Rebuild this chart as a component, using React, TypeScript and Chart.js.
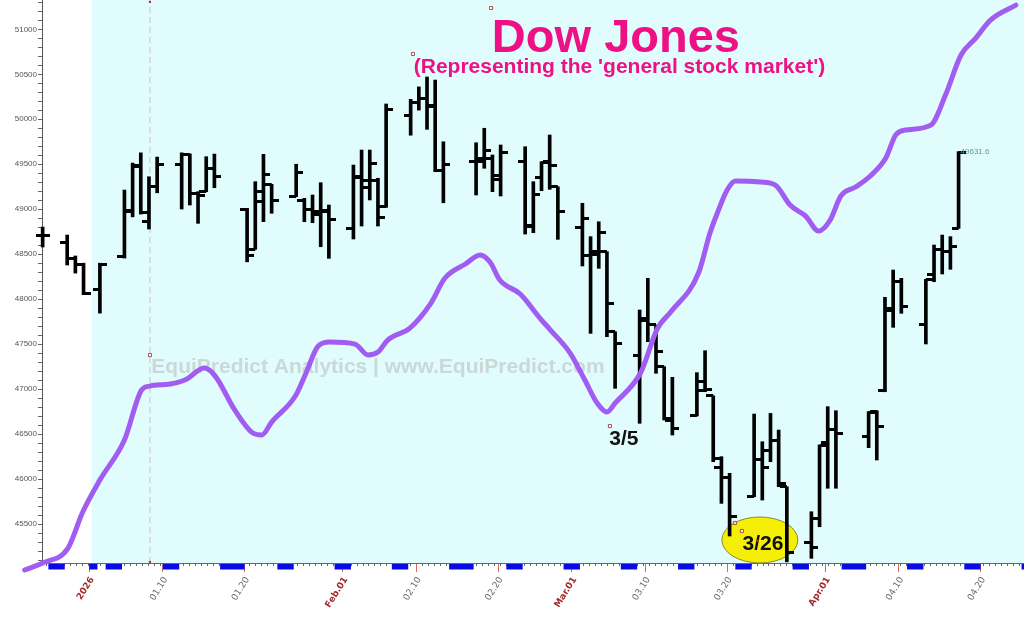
import React, { useEffect, useRef } from 'react';
import { Chart, registerables } from 'chart.js';

Chart.register(...registerables);

// ---- Data (day offset from 2026-01-01) ----
const barDays = [-6, -3, -2, -1, 1, 4, 5, 6, 7, 8, 11, 12, 13, 14, 15, 19, 20, 21, 22, 25, 26, 27, 28, 29, 32, 33, 34, 35, 36, 39, 40, 41, 42, 43, 47, 48, 49, 50, 53, 54, 55, 56, 57, 60, 61, 62, 63, 64, 67, 68, 69, 70, 71, 74, 75, 76, 77, 78, 81, 82, 83, 84, 85, 88, 89, 90, 91, 95, 96, 97, 98, 99, 102, 103, 104, 105, 106];
const opens = [48713, 48632, 48447, 48380, 48113, 48472, 48990, 49490, 48862, 49250, 49500, 49610, 49180, 49195, 49455, 49002, 48554, 49202, 49277, 49140, 49102, 49002, 48936, 48990, 48791, 49352, 49317, 49317, 49028, 50046, 50184, 50233, 50140, 49436, 49528, 49565, 49565, 49325, 49528, 48824, 49352, 49528, 49250, 48799, 48491, 48528, 48528, 47638, 47379, 47768, 47713, 47249, 46656, 46712, 47082, 46925, 46130, 46020, 45804, 46219, 46322, 46433, 45915, 45290, 45564, 46404, 46553, 46470, 46749, 46983, 47898, 48195, 47713, 48269, 48554, 48528, 48788];
const highs = [48802, 48713, 48480, 48400, 48400, 49213, 49513, 49627, 49361, 49580, 49627, 49615, 49195, 49584, 49613, 49010, 49306, 49610, 49277, 49500, 49121, 49158, 49295, 49047, 49491, 49658, 49658, 49344, 50170, 50222, 50360, 50470, 50436, 49750, 49739, 49900, 49603, 49714, 49695, 49306, 49528, 49825, 49250, 49066, 48695, 48861, 48528, 47638, 47880, 48232, 47713, 47249, 47131, 47183, 47427, 46925, 46249, 46064, 46723, 46415, 46730, 46545, 45915, 45637, 46379, 46805, 46760, 46750, 46760, 48021, 48324, 48232, 48221, 48602, 48713, 48695, 49640];
const lows = [48580, 48380, 48290, 48050, 47845, 48457, 48915, 48946, 48780, 49183, 49002, 49047, 48843, 49195, 49239, 48415, 48554, 48862, 48955, 49140, 48861, 48850, 48583, 48454, 48669, 48813, 49103, 48813, 49021, 49823, 50102, 49888, 49417, 49072, 49158, 49455, 49195, 49147, 48724, 48739, 49206, 49221, 48665, 48369, 47620, 48343, 47583, 47009, 46620, 47527, 47176, 46657, 46490, 46701, 46971, 46193, 45730, 45367, 45804, 45767, 46193, 45915, 45080, 45119, 45470, 45898, 45898, 46349, 46212, 46971, 47687, 47843, 47502, 48194, 48280, 48332, 48788];
const closes = [48713, 48447, 48380, 48060, 48390, 48980, 49480, 48960, 49250, 49500, 49610, 49177, 49150, 49455, 49362, 48490, 49083, 49388, 49095, 49410, 49002, 48980, 48980, 48890, 49369, 49240, 49503, 48910, 50111, 50184, 50233, 50157, 49436, 49500, 49528, 49658, 49380, 49628, 48813, 49169, 49517, 49491, 48972, 48899, 48502, 48739, 47954, 47502, 47787, 47713, 47416, 46674, 46564, 46980, 46998, 46230, 46020, 45580, 46219, 46130, 46433, 45952, 45180, 45240, 46368, 46553, 46509, 46740, 46590, 47872, 48195, 47916, 48221, 48554, 48528, 48584, 49631.6];

// Purple trend line (day, value)
const trendDays = [-7.9, -5.7, -2.6, -0.8, 1.3, 4.3, 6.4, 7.4, 9.9, 11.7, 14.1, 15.4, 17.8, 20.0, 21.1, 22.3, 25.2, 26.4, 28.0, 29.4, 32.5, 34.1, 35.3, 36.5, 39.2, 41.7, 43.5, 46.0, 47.8, 49.0, 50.2, 52.7, 55.1, 56.4, 58.8, 60.6, 62.1, 63.3, 64.3, 67.4, 69.5, 71.1, 74.5, 75.9, 76.8, 78.0, 79.0, 82.1, 83.9, 85.7, 87.6, 89.2, 90.6, 91.9, 93.7, 95.5, 97.4, 98.6, 99.8, 102.9, 104.7, 106.6, 108.4, 110.2, 113.3];
const trendValues = [44989, 45067, 45233, 45634, 45990, 46434, 46990, 47034, 47057, 47101, 47234, 47145, 46767, 46512, 46490, 46634, 46923, 47157, 47479, 47523, 47501, 47379, 47412, 47546, 47679, 47946, 48235, 48391, 48491, 48413, 48213, 48057, 47790, 47657, 47401, 47101, 46845, 46745, 46845, 47179, 47679, 47857, 48291, 48735, 48957, 49213, 49313, 49302, 49269, 49046, 48924, 48757, 48880, 49147, 49247, 49369, 49569, 49824, 49880, 49935, 50269, 50714, 50903, 51103, 51270];

// Weekends / holidays (blue marks under the axis)
const offStart = [-5, 0, 2, 9, 16, 23, 30, 37, 44, 51, 58, 65, 72, 79, 86, 92, 100, 107, 114];
const offEnd = [-3, 1, 4, 11, 19, 25, 32, 39, 47, 53, 60, 67, 74, 81, 88, 95, 102, 109, 116];

// Axis ticks
const tickDays = [0, 9, 19, 31, 40, 50, 59, 68, 78, 90, 99, 109];
const tickLabels = ['2026', '01.10', '01.20', 'Feb.01', '02.10', '02.20', 'Mar.01', '03.10', '03.20', 'Apr.01', '04.10', '04.20'];
const monthTicks = ['2026', 'Feb.01', 'Mar.01', 'Apr.01'];

// Drawing-tool anchors
const anchorDays = [7.42, 39.58, 49.14, 63.67, 78.95, 79.8];
const anchorValues = [47379, 50726, 51237, 46590, 45512, 45423];
const dotDays = [7.42, 7.42, 81.76];
const dotValues = [51304, 45078, 45312];
const guideDay = 7.42;
const shadeStartDay = 0.3;

// Text annotations
const titleText = 'Dow Jones';
const subtitleText = "(Representing the 'general stock market')";
const watermarkText = 'EquiPredict Analytics | www.EquiPredict.com';
const lastCloseLabel = '49631.6';

const X_MIN = -5.78;
const X_MAX = 114.3;
const Y_MIN = 45067;
const Y_MAX = 51326;
const BAR_SHIFT = 0.3;

export default function App() {
  const ref = useRef<HTMLCanvasElement>(null);

  useEffect(() => {
    document.body.style.margin = '0';
    document.body.style.overflow = 'hidden';
    const canvas = ref.current!;

    const mkTick = (left: boolean) => {
      const c = document.createElement('canvas');
      c.width = 14;
      c.height = 3;
      const g = c.getContext('2d')!;
      g.fillStyle = '#000';
      g.fillRect(left ? 0 : 7, 0, 7, 3);
      return c;
    };
    const leftTick = mkTick(true);
    const rightTick = mkTick(false);

    const minorTicks: number[] = [];
    for (let v = X_MIN + 0.2; v <= X_MAX; v += 0.73) minorTicks.push(v);
    const yTicks: number[] = [];
    for (let v = 45100; v <= 51300; v += 100) yTicks.push(v);

    const noPad = (s: any) => {
      s.paddingTop = 0;
      s.paddingBottom = 0;
      s.paddingLeft = 0;
      s.paddingRight = 0;
    };

    const bgPlugin = {
      id: 'bgShade',
      beforeDraw(chart: any) {
        const { ctx, chartArea, scales } = chart;
        ctx.save();
        ctx.fillStyle = '#ffffff';
        ctx.fillRect(0, 0, chart.width, chart.height);
        const x0 = scales.x.getPixelForValue(shadeStartDay);
        ctx.fillStyle = '#e0fcfd';
        ctx.fillRect(x0, chartArea.top, chartArea.right - x0, chartArea.bottom - chartArea.top);
        ctx.restore();
      },
    };

    const annoPlugin = {
      id: 'annos',
      beforeDatasetsDraw(chart: any) {
        const { ctx, scales } = chart;
        const X = (d: number) => scales.x.getPixelForValue(d);
        const Y = (v: number) => scales.y.getPixelForValue(v);
        ctx.save();
        // watermark
        ctx.font = 'bold 21px "Liberation Sans", Arial, sans-serif';
        ctx.fillStyle = '#ccd8d8';
        ctx.textAlign = 'center';
        ctx.textBaseline = 'middle';
        ctx.fillText(watermarkText, X(35.3), Y(47246));
        // title
        ctx.fillStyle = '#ee1185';
        ctx.textBaseline = 'alphabetic';
        ctx.font = 'bold 47px "Liberation Sans", Arial, sans-serif';
        ctx.fillText(titleText, X(64.4), Y(50748));
        ctx.font = 'bold 21px "Liberation Sans", Arial, sans-serif';
        ctx.fillText(subtitleText, X(64.83), Y(50514));
        // ellipse
        ctx.beginPath();
        ctx.ellipse(X(82.0), Y(45323), 38, 23, 0, 0, Math.PI * 2);
        ctx.fillStyle = '#f4ef05';
        ctx.fill();
        ctx.lineWidth = 1;
        ctx.strokeStyle = '#8a8a30';
        ctx.stroke();
        ctx.fillStyle = '#111';
        ctx.font = 'bold 21px "Liberation Sans", Arial, sans-serif';
        ctx.fillText('3/26', X(82.38), Y(45212));
        ctx.fillText('3/5', X(65.38), Y(46379));
        ctx.restore();
      },
      afterDatasetsDraw(chart: any) {
        const { ctx, scales } = chart;
        const X = (d: number) => scales.x.getPixelForValue(d);
        const Y = (v: number) => scales.y.getPixelForValue(v);
        const i = barDays.length - 1;
        ctx.save();
        ctx.font = '8px "Liberation Sans", Arial, sans-serif';
        ctx.fillStyle = '#5f9a98';
        ctx.textAlign = 'left';
        ctx.textBaseline = 'bottom';
        ctx.fillText(lastCloseLabel, X(barDays[i] + BAR_SHIFT) + 2, Y(closes[i]) + 3);
        ctx.restore();
      },
      afterDraw(chart: any) {
        const { ctx, scales, chartArea } = chart;
        ctx.save();
        ctx.fillStyle = '#0a0ae6';
        for (let k = 0; k < offStart.length; k++) {
          const a = Math.max(scales.x.getPixelForValue(offStart[k]), chartArea.left);
          const b = Math.min(scales.x.getPixelForValue(offEnd[k]), chartArea.right);
          if (b > a) ctx.fillRect(a, chartArea.bottom + 1, b - a, 5.5);
        }
        ctx.restore();
      },
    };

    const chart = new Chart(canvas, {
      type: 'line',
      data: {
        datasets: [
          {
            type: 'line',
            label: 'guide',
            data: [{ x: guideDay, y: Y_MIN }, { x: guideDay, y: Y_MAX }],
            borderColor: '#cfc0c0',
            borderWidth: 1,
            borderDash: [6, 4],
            pointRadius: 0,
            order: 10,
          },
          {
            type: 'bar',
            label: 'range',
            data: barDays.map((d, i) => ({ x: d + BAR_SHIFT, y: [lows[i], highs[i]] })) as any,
            backgroundColor: '#000',
            borderWidth: 0,
            barThickness: 3,
            grouped: false,
            clip: false as any,
            order: 5,
          } as any,
          {
            type: 'line',
            label: 'open',
            data: barDays.map((d, i) => ({ x: d + BAR_SHIFT, y: opens[i] })),
            showLine: false,
            pointStyle: leftTick as any,
            pointRadius: 3,
            clip: false as any,
            order: 4,
          },
          {
            type: 'line',
            label: 'close',
            data: barDays.map((d, i) => ({ x: d + BAR_SHIFT, y: closes[i] })),
            showLine: false,
            pointStyle: rightTick as any,
            pointRadius: 3,
            clip: false as any,
            order: 3,
          },
          {
            type: 'line',
            label: 'trend',
            data: trendDays.map((d, i) => ({ x: d, y: trendValues[i] })),
            borderColor: '#a15df1',
            borderWidth: 5,
            pointRadius: 0,
            cubicInterpolationMode: 'monotone',
            borderJoinStyle: 'round',
            borderCapStyle: 'round',
            clip: false as any,
            order: 1,
          },
          {
            type: 'line',
            label: 'anchors',
            data: anchorDays.map((d, i) => ({ x: d, y: anchorValues[i] })),
            showLine: false,
            pointStyle: 'rect',
            pointRadius: 2.2,
            borderWidth: 1,
            borderColor: '#b05050',
            backgroundColor: 'rgba(255,255,255,0.6)',
            clip: false as any,
            order: 0,
          },
          {
            type: 'line',
            label: 'dots',
            data: dotDays.map((d, i) => ({ x: d, y: dotValues[i] })),
            showLine: false,
            pointStyle: 'rect',
            pointRadius: 1.5,
            borderWidth: 0,
            backgroundColor: '#e02020',
            clip: false as any,
            order: 0,
          },
        ],
      },
      options: {
        animation: false,
        responsive: false,
        devicePixelRatio: 1,
        layout: { padding: 0, autoPadding: false } as any,
        plugins: { legend: { display: false }, tooltip: { enabled: false }, title: { display: false } },
        events: [],
        scales: {
          x: {
            type: 'linear',
            position: 'bottom',
            min: X_MIN,
            max: X_MAX,
            offset: false,
            weight: 0,
            afterBuildTicks: (s: any) => {
              s.ticks = minorTicks.map((v) => ({ value: v }));
            },
            afterFit: (s: any) => {
              s.height = 0;
              noPad(s);
            },
            ticks: { display: false },
            grid: { drawOnChartArea: false, drawTicks: true, tickLength: 3, tickColor: '#666', tickWidth: 1 },
            border: { display: true, color: '#666', width: 1 },
          },
          xl: {
            type: 'linear',
            position: 'bottom',
            min: X_MIN,
            max: X_MAX,
            offset: false,
            weight: 1,
            afterBuildTicks: (s: any) => {
              s.ticks = tickDays.map((v) => ({ value: v }));
            },
            afterFit: (s: any) => {
              s.height = 56;
              noPad(s);
            },
            ticks: {
              autoSkip: false,
              minRotation: 58,
              maxRotation: 58,
              padding: 3,
              labelOffset: 3,
              callback: (_v: any, i: number) => tickLabels[i],
              color: (c: any) => (monthTicks.includes(tickLabels[c.index]) ? '#a52a2a' : '#6b6b6b'),
              font: (c: any) => ({
                family: '"DejaVu Sans", sans-serif',
                size: 9,
                weight: monthTicks.includes(tickLabels[c.index]) ? 'bold' : 'normal',
              }),
            },
            grid: { drawOnChartArea: false, drawTicks: true, tickLength: 9, tickColor: '#d36a6a', tickWidth: 1 },
            border: { display: false },
          } as any,
          y: {
            type: 'linear',
            position: 'left',
            min: Y_MIN,
            max: Y_MAX,
            afterBuildTicks: (s: any) => {
              s.ticks = yTicks.map((v) => ({ value: v }));
            },
            afterFit: (s: any) => {
              s.width = 42;
              noPad(s);
            },
            ticks: {
              autoSkip: false,
              padding: 1,
              callback: (v: any) => (Number(v) % 500 === 0 ? String(v) : ''),
              color: '#555',
              font: { family: '"Liberation Sans", Arial, sans-serif', size: 8 },
            },
            grid: { drawOnChartArea: false, drawTicks: true, tickLength: 4, tickColor: '#666' },
            border: { display: true, color: '#555', width: 1 },
          },
        },
      } as any,
      plugins: [bgPlugin, annoPlugin],
    });

    return () => chart.destroy();
  }, []);

  return (
    <div style={{ width: 1024, height: 619 }}>
      <canvas ref={ref} width={1024} height={619} style={{ display: 'block', width: 1024, height: 619 }} />
    </div>
  );
}
